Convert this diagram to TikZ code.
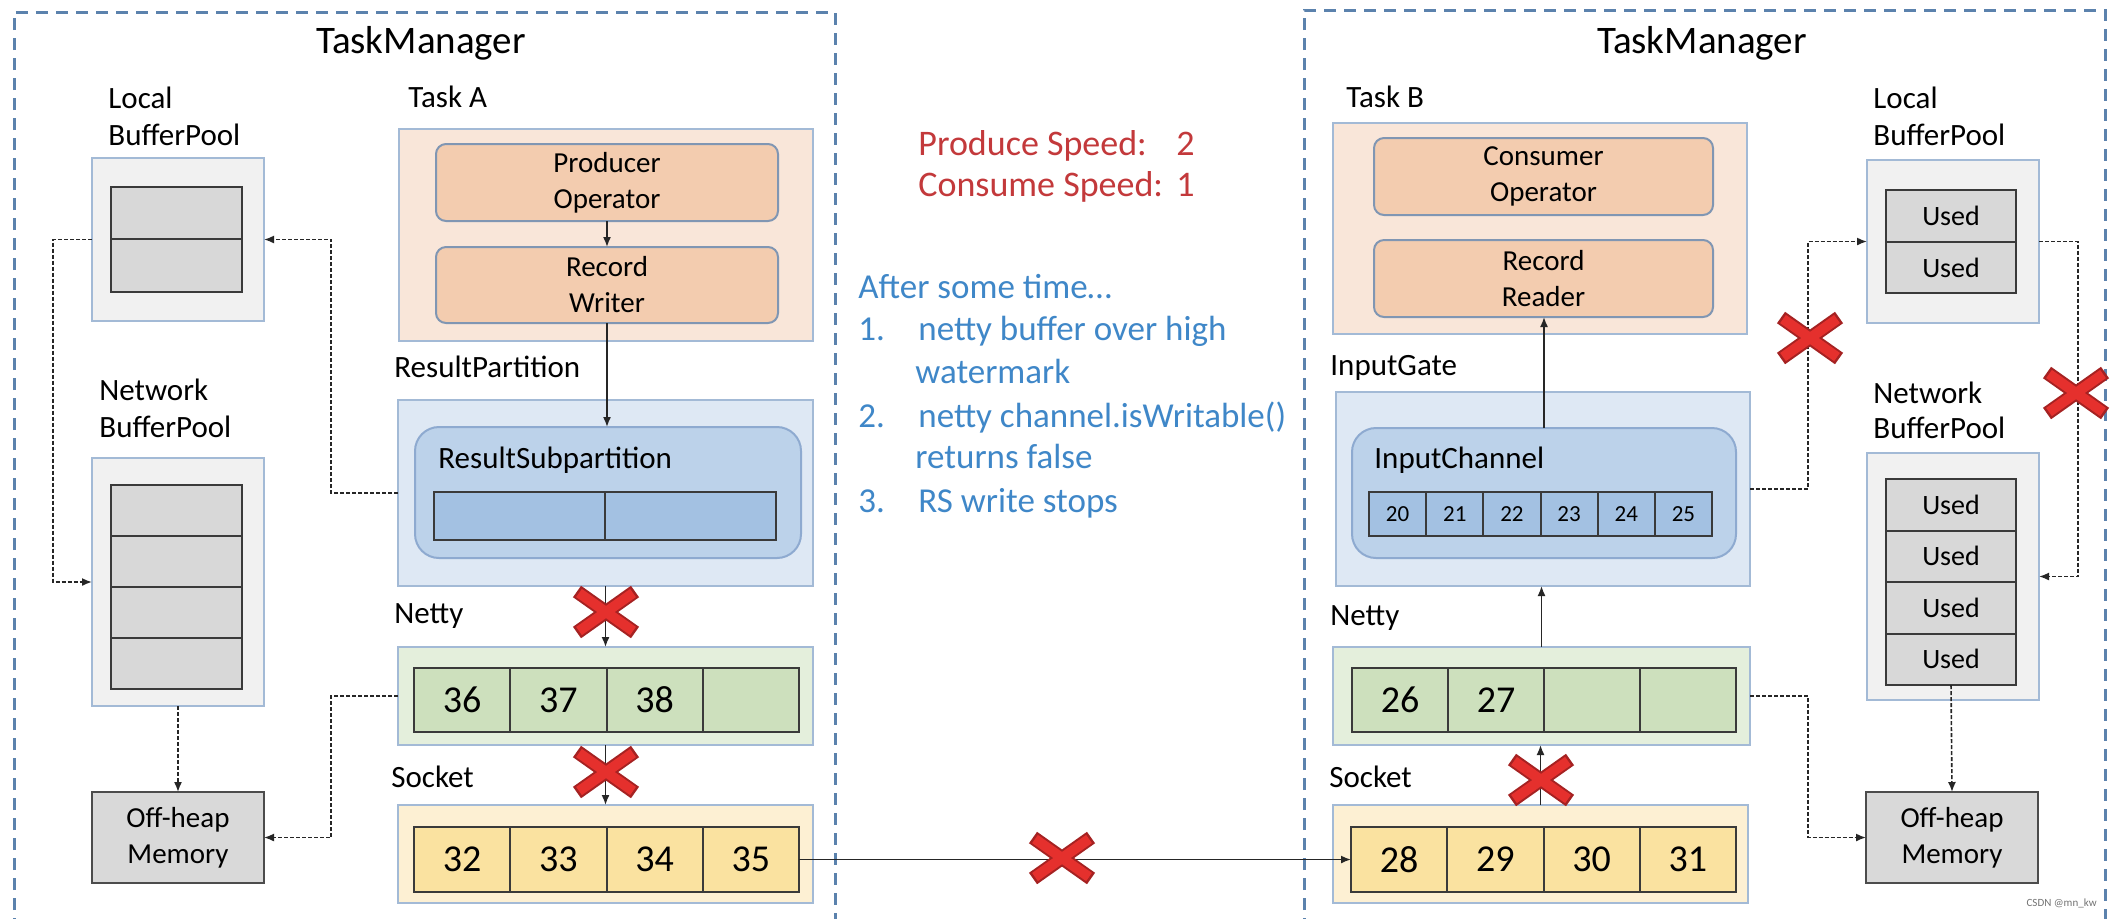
\documentclass[tikz,border=0pt]{standalone}
\usepackage{fontspec}
\setmainfont{Carlito}
\usetikzlibrary{fit,arrows.meta}
\definecolor{tmblue}{HTML}{5B82AD}
\definecolor{boxedge}{HTML}{A3BAD6}
\definecolor{taskfill}{HTML}{F9E6D9}
\definecolor{opfill}{HTML}{F3CCAF}
\definecolor{opedge}{HTML}{8096B3}
\definecolor{rpfill}{HTML}{DEE8F4}
\definecolor{rspfill}{HTML}{BCD2EA}
\definecolor{rspedge}{HTML}{8EAAD0}
\definecolor{barfill}{HTML}{A3C1E2}
\definecolor{nettyfill}{HTML}{E4EFDC}
\definecolor{nettycell}{HTML}{CDE0BD}
\definecolor{sockfill}{HTML}{FDF0D3}
\definecolor{sockcell}{HTML}{FAE2A0}
\definecolor{poolfill}{HTML}{F1F1F1}
\definecolor{poolcell}{HTML}{D8D8D8}
\definecolor{offfill}{HTML}{D9D9D9}
\definecolor{celledge}{HTML}{3A3A3A}
\definecolor{redtxt}{HTML}{C3393B}
\definecolor{bluetxt}{HTML}{3F87C8}
\definecolor{xred}{HTML}{E5302D}
\definecolor{xdark}{HTML}{A52222}
\newcommand{\redcross}[1]{%
  \begin{scope}[shift={#1}]
    \draw[line width=7pt, xdark] (-29,-20.5) -- (29,20.5) (-29,20.5) -- (29,-20.5);
    \draw[line width=5pt, xred] (-27,-19) -- (27,19) (-27,19) -- (27,-19);
  \end{scope}}
\begin{document}
\begin{tikzpicture}[x=0.5pt,y=-0.5pt,
  outerbox/.style={draw=boxedge, line width=1pt, inner sep=0pt, outer sep=0pt},
  opbox/.style={draw=opedge, fill=opfill, line width=1pt, rounded corners=5pt, inner sep=0pt, outer sep=0pt},
  cellbox/.style={draw=celledge, line width=1pt, inner sep=0pt, outer sep=0pt},
  tmframe/.style={draw=tmblue, line width=1.5pt, dash pattern=on 6pt off 4pt},
  lbl/.style={anchor=base west, inner sep=0pt, font=\fontsize{15.5}{18.5}\selectfont},
  title/.style={anchor=base, inner sep=0pt, font=\fontsize{19.5}{23}\selectfont},
  boxtxt/.style={align=center, inner sep=0pt, font=\fontsize{14.5}{18}\selectfont},
  numtxt/.style={inner sep=0pt, font=\fontsize{19}{22}\selectfont},
  usedtxt/.style={inner sep=0pt, font=\fontsize{14}{17}\selectfont},
  smalltxt/.style={inner sep=0pt, font=\fontsize{11.5}{13}\selectfont},
  redline/.style={anchor=base west, inner sep=0pt, text=redtxt, font=\fontsize{18}{21}\selectfont},
  blueline/.style={anchor=base west, inner sep=0pt, text=bluetxt, font=\fontsize{17.5}{21}\selectfont},
  conn/.style={draw=black!85, line width=0.8pt, -{Latex[length=5pt,width=4pt]}},
  dconn/.style={draw=black!85, line width=0.8pt, dash pattern=on 2pt off 1pt, -{Latex[length=5pt,width=4pt]}}
]
\useasboundingbox (0,0) rectangle (2112,918);
\fill[white] (0,0) rectangle (2112,918);

% TaskManager frames
\draw[tmframe] (14,930) -- (14,12) -- (835,12) -- (835,930);
\draw[tmframe] (1304,930) -- (1304,10) -- (2105,10) -- (2105,930);
\node[title] (tmL) at (421,53) {TaskManager};
\node[title] (tmR) at (1702,53) {TaskManager};

% ---------------- Left side ----------------
\node[lbl] (lbpLlbl1) at (108,108) {Local};
\node[lbl] (lbpLlbl2) at (108,145) {BufferPool};
\node[outerbox, fill=poolfill, fit={(92,158) (264,321)}] (lbpL) {};
\node[cellbox, fill=poolcell, fit={(111,187) (242,239)}] (lbpLc1) {};
\node[cellbox, fill=poolcell, fit={(111,239) (242,292)}] (lbpLc2) {};

\node[lbl] (nbpLlbl1) at (99,400) {Network};
\node[lbl] (nbpLlbl2) at (99,437) {BufferPool};
\node[outerbox, fill=poolfill, fit={(92,458) (264,706)}] (nbpL) {};
\foreach \i in {0,1,2,3} {
  \node[cellbox, fill=poolcell, fit={(111,{485+51*\i}) (242,{485+51*(\i+1)})}] (nbpLc\i) {};
}
\node[cellbox, draw=black!70, fill=offfill, fit={(92,792) (264,883)}] (offL) {};
\node[boxtxt] (offLt) at (offL) {Off-heap\\Memory};

\node[lbl] (taskAlbl) at (408,107) {Task A};
\node[outerbox, fill=taskfill, fit={(399,129) (813,341)}] (taskA) {};
\node[opbox, fit={(436,144) (778,221)}] (prod) {};
\node[boxtxt] (prodt) at (prod) {Producer\\Operator};
\node[opbox, fit={(436,247) (778,323)}] (rw) {};
\node[boxtxt] (rwt) at (rw) {Record\\Writer};

\node[lbl] (rplbl) at (394,377) {ResultPartition};
\node[outerbox, fill=rpfill, fit={(398,400) (813,586)}] (rp) {};
\node[draw=rspedge, fill=rspfill, line width=1pt, rounded corners=12pt, inner sep=0pt, outer sep=0pt, fit={(415,427) (801,558)}] (rsp) {};
\node[lbl] (rsplbl) at (438,468) {ResultSubpartition};
\node[cellbox, fill=barfill, fit={(434,492) (605,540)}] (rspc1) {};
\node[cellbox, fill=barfill, fit={(605,492) (776,540)}] (rspc2) {};

\node[lbl] (nettyLlbl) at (394,623) {Netty};
\node[outerbox, fill=nettyfill, fit={(398,647) (813,745)}] (nettyL) {};
\foreach \i/\t in {0/36,1/37,2/38,3/{}} {
  \node[cellbox, fill=nettycell, fit={({414+96.25*\i},668) ({414+96.25*(\i+1)},732)}] (nLc\i) {};
  \node[numtxt] at (nLc\i) {\t};
}

\node[lbl] (sockLlbl) at (391,787) {Socket};
\node[outerbox, fill=sockfill, fit={(398,805) (813,903)}] (sockL) {};
\foreach \i/\t in {0/32,1/33,2/34,3/35} {
  \node[cellbox, fill=sockcell, fit={({414+96.25*\i},827) ({414+96.25*(\i+1)},892)}] (sLc\i) {};
  \node[numtxt] at (sLc\i) {\t};
}

% ---------------- Right side ----------------
\node[lbl] (taskBlbl) at (1346,107) {Task B};
\node[outerbox, fill=taskfill, fit={(1333,123) (1747,334)}] (taskB) {};
\node[opbox, fit={(1374,138) (1713,215)}] (cons) {};
\node[boxtxt] (const) at (cons) {Consumer\\Operator};
\node[opbox, fit={(1374,240) (1713,317)}] (rr) {};
\node[boxtxt] (rrt) at (rr) {Record\\Reader};

\node[lbl] (iglbl) at (1330,375) {InputGate};
\node[outerbox, fill=rpfill, fit={(1336,392) (1750,586)}] (ig) {};
\node[draw=rspedge, fill=rspfill, line width=1pt, rounded corners=12pt, inner sep=0pt, outer sep=0pt, fit={(1352,428) (1736,558)}] (ic) {};
\node[lbl] (iclbl) at (1374,468) {InputChannel};
\foreach \i/\t in {0/20,1/21,2/22,3/23,4/24,5/25} {
  \node[cellbox, fill=barfill, fit={({1369+57.17*\i},492) ({1369+57.17*(\i+1)},536)}] (icc\i) {};
  \node[smalltxt] at (icc\i) {\t};
}

\node[lbl] (nettyRlbl) at (1330,625) {Netty};
\node[outerbox, fill=nettyfill, fit={(1333,647) (1750,745)}] (nettyR) {};
\foreach \i/\t in {0/26,1/27,2/{},3/{}} {
  \node[cellbox, fill=nettycell, fit={({1352+96*\i},668) ({1352+96*(\i+1)},732)}] (nRc\i) {};
  \node[numtxt] at (nRc\i) {\t};
}

\node[lbl] (sockRlbl) at (1329,787) {Socket};
\node[outerbox, fill=sockfill, fit={(1333,805) (1748,903)}] (sockR) {};
\foreach \i/\t in {0/28,1/29,2/30,3/31} {
  \node[cellbox, fill=sockcell, fit={({1351+96.25*\i},827) ({1351+96.25*(\i+1)},892)}] (sRc\i) {};
  \node[numtxt] at (sRc\i) {\t};
}

\node[lbl] (lbpRlbl1) at (1873,108) {Local};
\node[lbl] (lbpRlbl2) at (1873,145) {BufferPool};
\node[outerbox, fill=poolfill, fit={(1867,160) (2039,323)}] (lbpR) {};
\node[cellbox, fill=poolcell, fit={(1886,190) (2016,242)}] (lbpRc1) {};
\node[usedtxt] at (lbpRc1) {Used};
\node[cellbox, fill=poolcell, fit={(1886,242) (2016,293)}] (lbpRc2) {};
\node[usedtxt] at (lbpRc2) {Used};

\node[lbl] (nbpRlbl1) at (1873,403) {Network};
\node[lbl] (nbpRlbl2) at (1873,438) {BufferPool};
\node[outerbox, fill=poolfill, fit={(1867,453) (2039,700)}] (nbpR) {};
\foreach \i in {0,1,2,3} {
  \node[cellbox, fill=poolcell, fit={(1886,{479+51.5*\i}) (2016,{479+51.5*(\i+1)})}] (nbpRc\i) {};
  \node[usedtxt] at (nbpRc\i) {Used};
}
\node[cellbox, draw=black!70, fill=offfill, fit={(1866,792) (2038,883)}] (offR) {};
\node[boxtxt] (offRt) at (offR) {Off-heap\\Memory};

% ---------------- Middle text ----------------
\node[redline] (ps) at (918,155) {Produce Speed:};
\node[redline] (psv) at (1176,155) {2};
\node[redline] (cs) at (918,196) {Consume Speed:};
\node[redline] (csv) at (1176,196) {1};

\node[blueline] (b0) at (858,298) {After some time…};
\node[blueline] (b1n) at (858,340) {1.};
\node[blueline] (b1) at (918,340) {netty buffer over high};
\node[blueline] (b1b) at (915,383) {watermark};
\node[blueline] (b2n) at (858,427) {2.};
\node[blueline] (b2) at (918,427) {netty channel.isWritable()};
\node[blueline] (b2b) at (915,468) {returns false};
\node[blueline] (b3n) at (858,512) {3.};
\node[blueline] (b3) at (918,512) {RS write stops};

\node[anchor=base east, inner sep=0pt, text=black!55, font=\fontsize{5.5}{6}\selectfont] (wm) at (2097,906) {CSDN @mn\_kw};

% ---------------- Connectors ----------------
\draw[conn] (prod.south) -- (prod.south |- rw.north);
\draw[conn] (rw.south) -- (rw.south |- rsp.north);
\draw[conn] (rp.south) -- (rp.south |- nettyL.north);
\draw[conn] (nettyL.south) -- (nettyL.south |- sockL.north);
\draw[conn] (sLc3.east) -- (sRc0.west);

\draw[dconn] (lbpL.west) -- ++(-39,0) |- (nbpL.west);
\draw[dconn] (nbpL.south) -- (offL.north);
\draw[dconn] (rp.west) -- ++(-67,0) |- (lbpL.east);
\draw[dconn] (nettyL.west) -- ++(-67,0) |- (offL.east);

\draw[conn] (ic.north) -- (ic.north |- rr.south);
\draw[conn] (nettyR.north) -- (nettyR.north |- ig.south);
\draw[conn] (sockR.north) -- (sockR.north |- nettyR.south);

\draw[dconn] (ig.east) -- ++(58,0) |- (lbpR.west);
\draw[dconn] (lbpR.east) -- ++(39,0) |- (nbpR.east);
\draw[dconn] (nbpRc3.south) -- (offR.north);
\draw[dconn] (nettyR.east) -- ++(58,0) |- (offR.west);

% red crosses
\redcross{(606,612)}
\redcross{(606,772)}
\redcross{(1062,858)}
\redcross{(1541,780)}
\redcross{(1810,338)}
\redcross{(2076,393)}
\end{tikzpicture}
\end{document}
